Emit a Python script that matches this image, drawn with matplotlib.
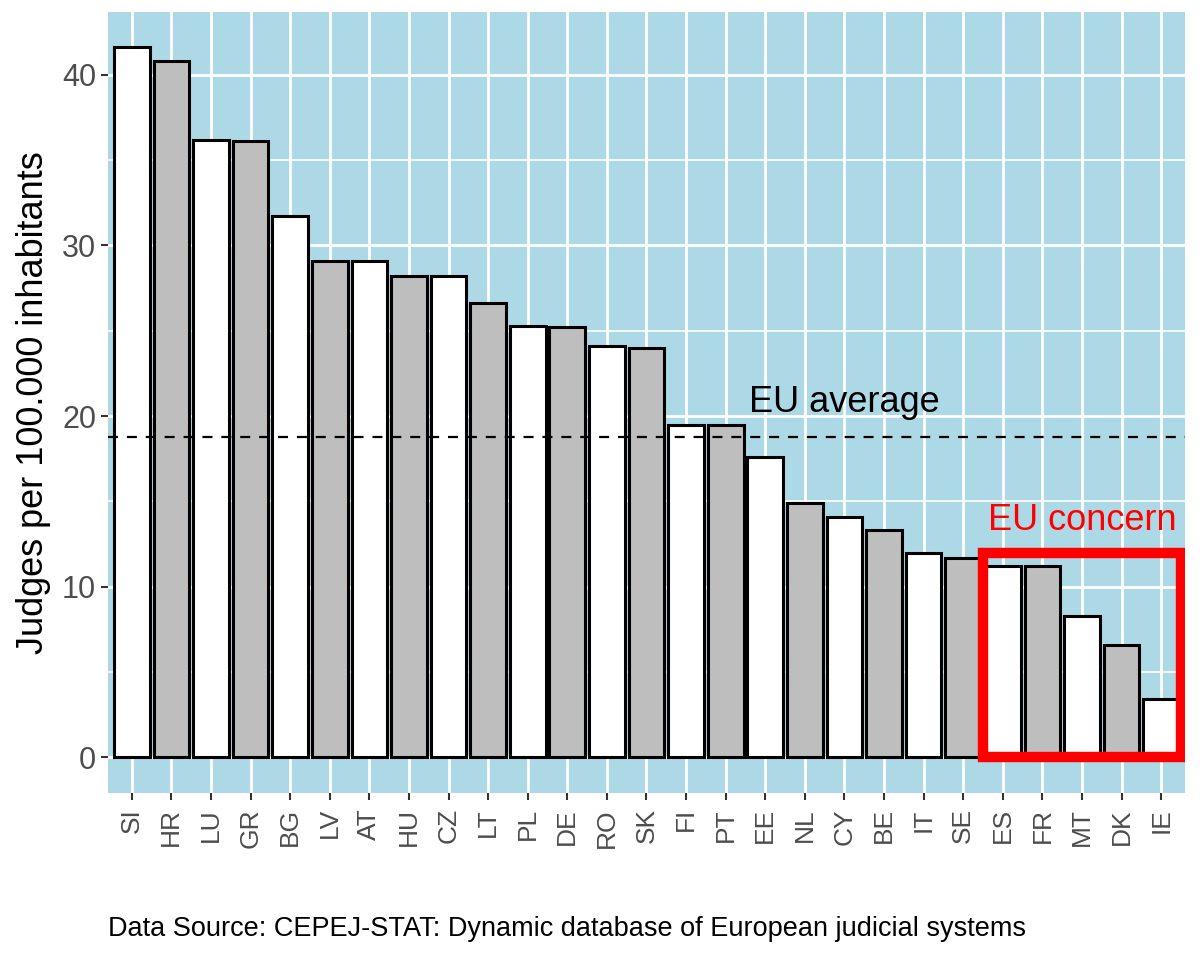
import matplotlib
matplotlib.use("Agg")
import matplotlib.pyplot as plt
import numpy as np
from matplotlib.patches import Rectangle

plt.rcParams['font.family'] = ['Liberation Sans', 'DejaVu Sans']

# judges per 100.000 inhabitants
countries = ['SI', 'HR', 'LU', 'GR', 'BG', 'LV', 'AT', 'HU', 'CZ', 'LT', 'PL', 'DE', 'RO', 'SK',
             'FI', 'PT', 'EE', 'NL', 'CY', 'BE', 'IT', 'SE', 'ES', 'FR', 'MT', 'DK', 'IE']
judges = [41.6, 40.8, 36.2, 36.1, 31.7, 29.1, 29.1, 28.2, 28.2, 26.6, 25.3, 25.2, 24.1, 24.0,
          19.5, 19.5, 17.6, 14.9, 14.1, 13.3, 12.0, 11.7, 11.2, 11.2, 8.3, 6.6, 3.4]
eu_average = 18.8
concern = ['ES', 'FR', 'MT', 'DK', 'IE']
concern_top = 12.0

fig = plt.figure(figsize=(12, 9.6), dpi=100)
ax = fig.add_axes([0.09, 0.174, 0.8975, 0.8135])
ax.set_facecolor('#ADD8E6')

x = np.arange(len(countries))
fills = ['white' if i % 2 == 0 else '#BEBEBE' for i in x]
ax.bar(x, judges, width=0.9, color=fills, edgecolor='black', linewidth=2.2, zorder=3)

ax.axhline(eu_average, color='black', linestyle=(0, (4.5, 4)), linewidth=1.6, zorder=4)
ax.text(18, 20.8, 'EU average', fontsize=26, color='black', ha='center', va='center', zorder=5)

i0 = countries.index(concern[0])
i1 = countries.index(concern[-1])
ax.add_patch(Rectangle((i0 - 0.5, 0), i1 - i0 + 1, concern_top, fill=False,
                       edgecolor='red', linewidth=7.5, zorder=5, joinstyle='miter'))
ax.text((i0 + i1) / 2, 13.9, 'EU concern', fontsize=26, color='red', ha='center', va='center', zorder=5)

ax.set_xlim(-0.6, len(countries) - 0.4)
ymax = max(judges)
ax.set_ylim(-0.05 * ymax, ymax * 1.05)

ax.set_xticks(x)
ax.set_xticklabels(countries, rotation=90, fontsize=19, color='#4D4D4D')
ax.set_yticks([0, 10, 20, 30, 40])
ax.set_yticks([5, 15, 25, 35], minor=True)
ax.tick_params(axis='y', labelsize=22, labelcolor='#4D4D4D', length=5, width=1.5, color='#333333')
ax.tick_params(axis='y', which='minor', length=0)
ax.tick_params(axis='x', length=5, width=1.5, color='#333333', pad=6)

ax.grid(True, which='major', color='white', linewidth=2, zorder=0)
ax.grid(True, which='minor', axis='y', color='white', linewidth=1.2, zorder=0)
ax.set_axisbelow(True)
for s in ax.spines.values():
    s.set_visible(False)

ax.set_ylabel('Judges per 100.000 inhabitants', fontsize=26, labelpad=8)

fig.text(0.09, 0.032, 'Data Source: CEPEJ-STAT: Dynamic database of European judicial systems',
         fontsize=19.5, ha='left', va='center')

fig.savefig('out.png', dpi=100)
